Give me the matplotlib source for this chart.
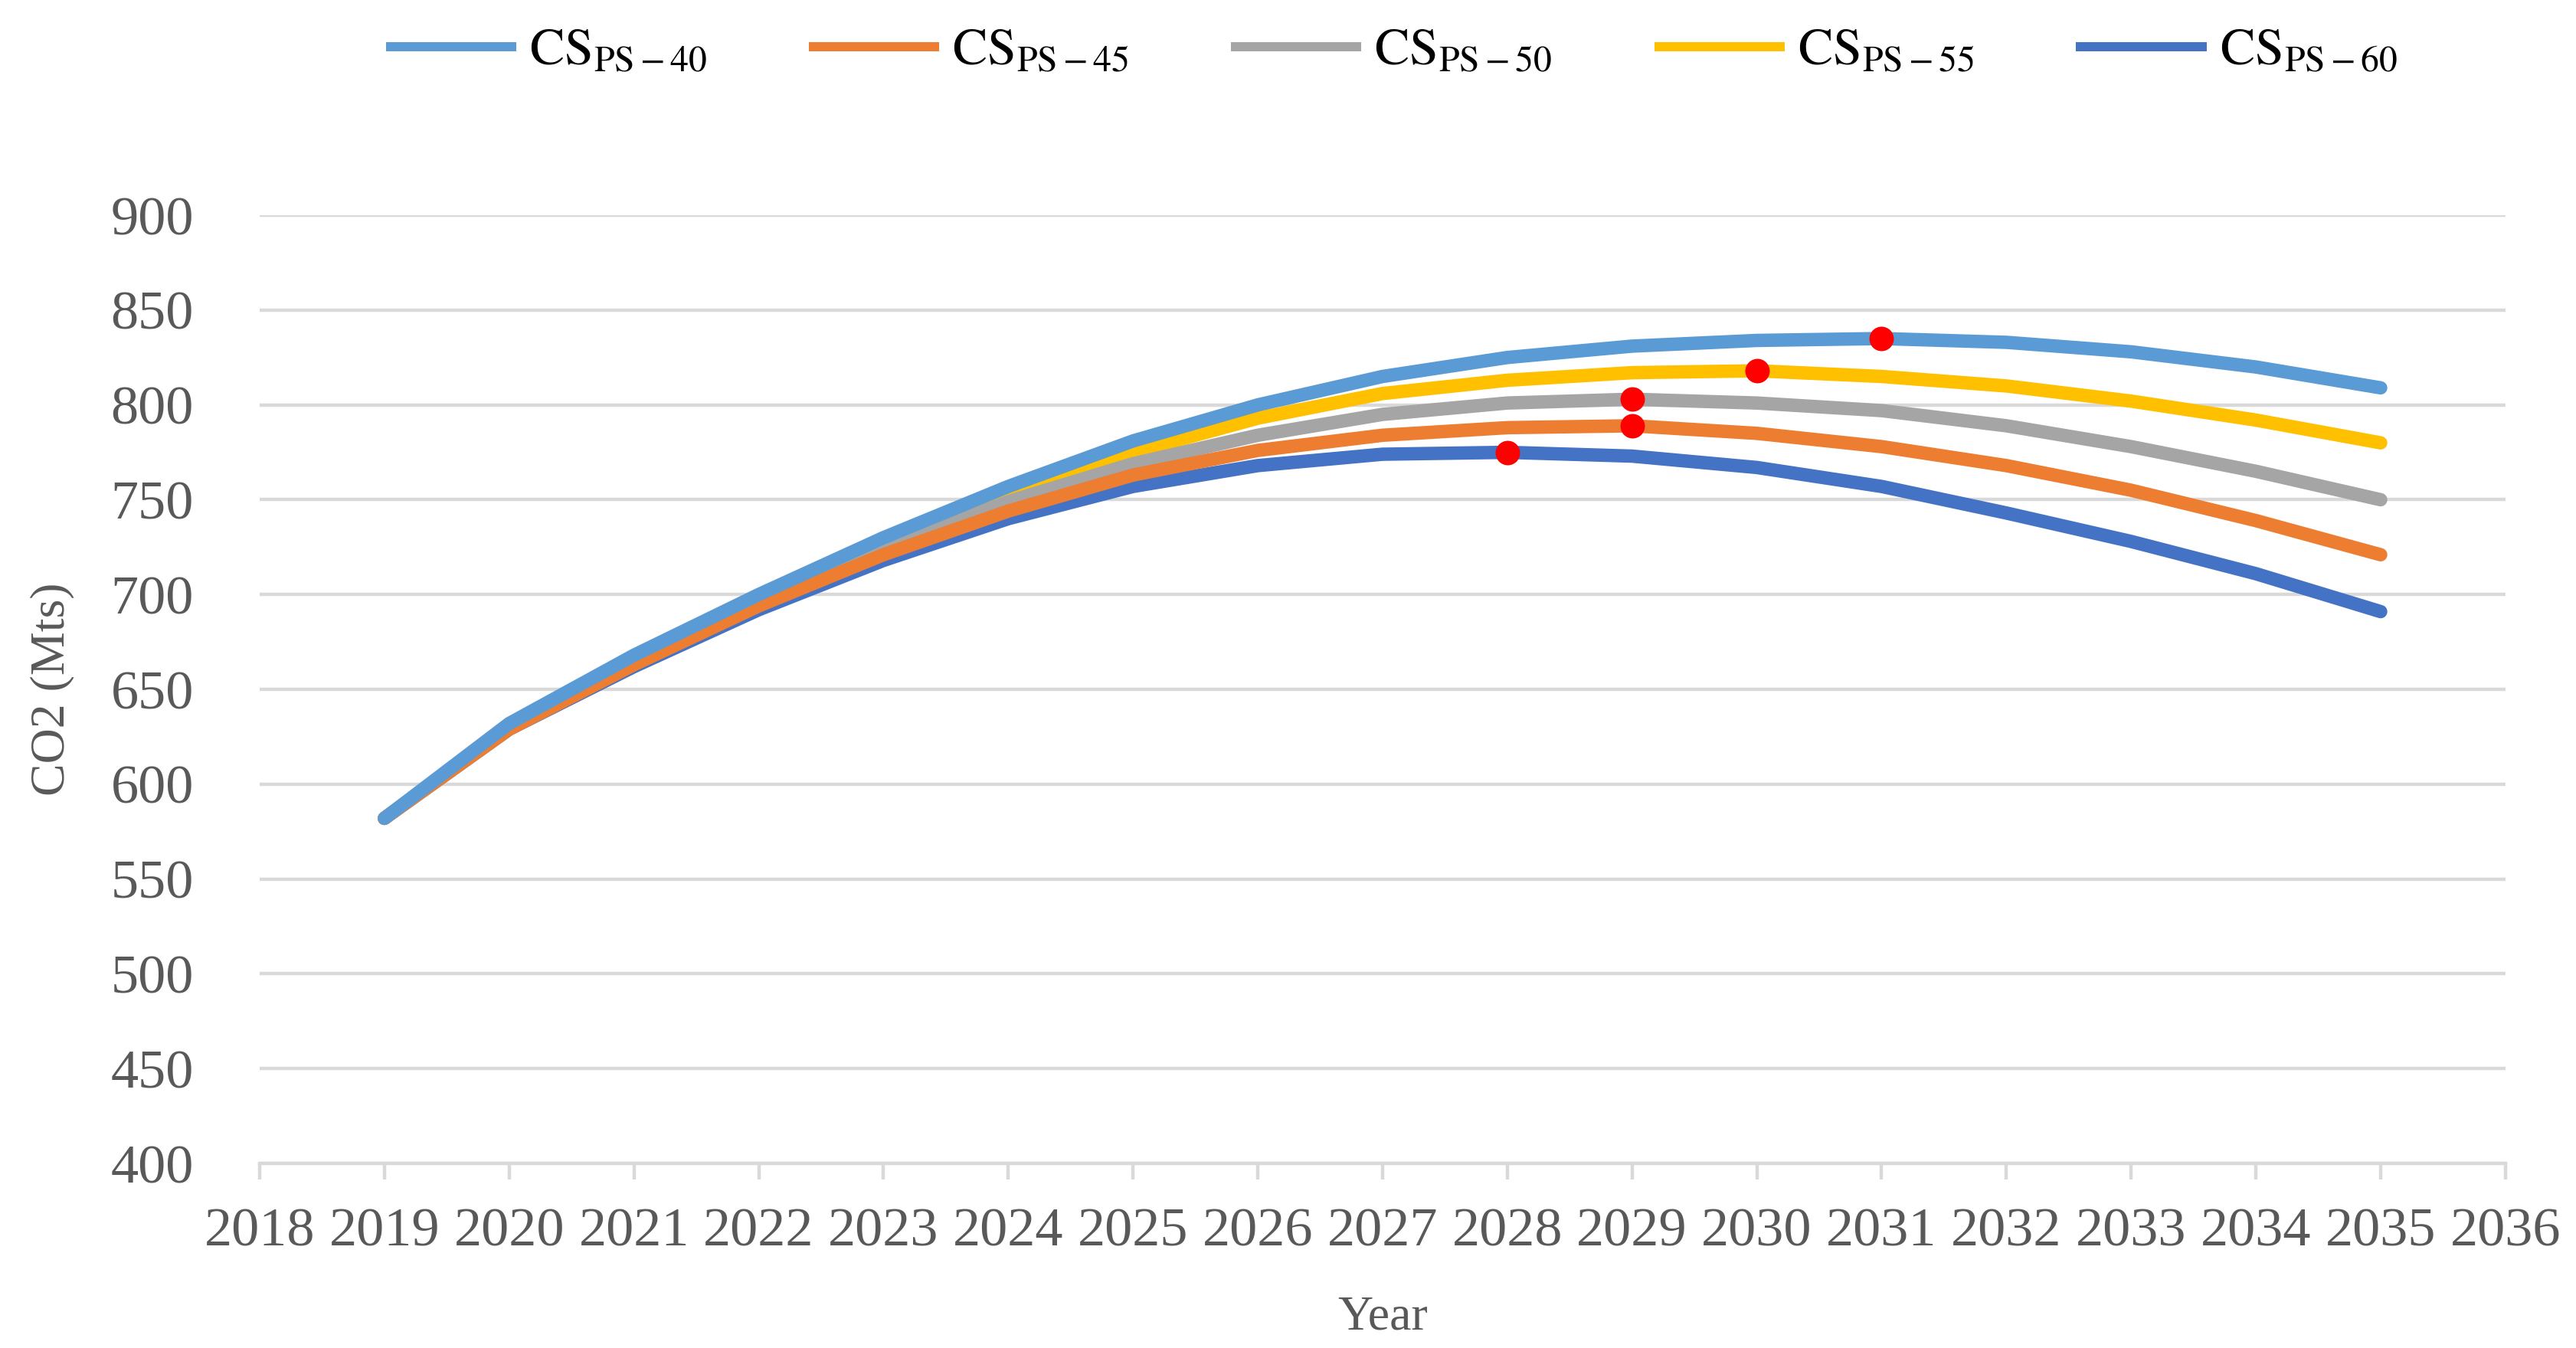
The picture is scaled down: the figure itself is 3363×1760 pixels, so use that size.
import matplotlib
matplotlib.use("Agg")
import matplotlib.pyplot as plt

# values (CO2 in Mts)
years = list(range(2019, 2036))

cs_40 = [582, 632, 668, 700, 730, 757, 781, 800, 815, 825, 831, 834, 835, 833, 828, 820, 809]
cs_45 = [582, 629, 663, 694, 721, 744, 763, 776, 784, 788, 789, 785, 778, 768, 755, 739, 721]
cs_50 = [582, 630, 664, 696, 724, 749, 769, 784, 795, 801, 803, 801, 797, 789, 778, 765, 750]
cs_55 = [582, 631, 666, 698, 727, 753, 775, 793, 806, 813, 817, 818, 815, 810, 802, 792, 780]
cs_60 = [582, 629, 662, 692, 718, 740, 757, 768, 774, 775, 773, 767, 757, 743, 728, 711, 691]

series = [cs_40, cs_45, cs_50, cs_55, cs_60]
labels = [r"$\mathrm{CS}_{\mathrm{PS-40}}$", r"$\mathrm{CS}_{\mathrm{PS-45}}$",
          r"$\mathrm{CS}_{\mathrm{PS-50}}$", r"$\mathrm{CS}_{\mathrm{PS-55}}$",
          r"$\mathrm{CS}_{\mathrm{PS-60}}$"]
colors = ["#5B9BD5", "#ED7D31", "#A5A5A5", "#FFC000", "#4472C4"]
peak_years = [2031, 2029, 2029, 2030, 2028]

plt.rcParams["font.family"] = ["Liberation Serif", "DejaVu Serif"]
plt.rcParams["mathtext.fontset"] = "stix"

fig = plt.figure(figsize=(3363 / 200, 1760 / 200), dpi=200)
ax = fig.add_axes([0.1008, 0.1369, 0.8718, 0.7034])

for i, (vals, lab, col) in enumerate(zip(series, labels, colors)):
    ax.plot(years, vals, color=col, lw=6.3, label=lab,
            solid_capstyle="round", solid_joinstyle="round", zorder=10 - i)

# red dots at the peak of each curve
for vals, py in zip(series, peak_years):
    ax.plot(py, vals[years.index(py)], "o", color="#FF0000", ms=11.5,
            mec="none", zorder=20)

ax.set_xlim(2018, 2036)
ax.set_ylim(400, 900)
ax.set_xticks(range(2018, 2037))
ax.set_yticks(range(400, 901, 50))

ax.grid(axis="y", color="#D9D9D9", lw=1.6)
ax.set_axisbelow(True)
for s in ["top", "right", "left"]:
    ax.spines[s].set_visible(False)
ax.spines["bottom"].set_color("#D9D9D9")
ax.spines["bottom"].set_linewidth(1.6)

ax.tick_params(axis="x", direction="out", length=7.6, width=1.6, color="#D9D9D9",
               labelsize=26, labelcolor="#595959", pad=13)
ax.tick_params(axis="y", length=0, labelsize=26, labelcolor="#595959", pad=31)

ax.set_xlabel("Year", fontsize=23, color="#595959")
ax.set_ylabel("CO2 (Mts)", fontsize=23, color="#595959")
ax.xaxis.set_label_coords(0.5, -0.1624)
ax.xaxis.label.set_va("center")
ax.yaxis.set_label_coords(-0.0924, 0.5)
ax.yaxis.label.set_va("center")
ax.yaxis.label.set_ha("center")

leg = ax.legend(loc="center", bbox_to_anchor=(0.504, 1.172), ncol=5, frameon=False,
                fontsize=24.5, handlelength=2.5, columnspacing=1.96, handletextpad=0.25)
for h in leg.get_lines():
    h.set_linewidth(4.3)
    h.set_solid_capstyle("butt")

fig.savefig("out.png", dpi=200)
